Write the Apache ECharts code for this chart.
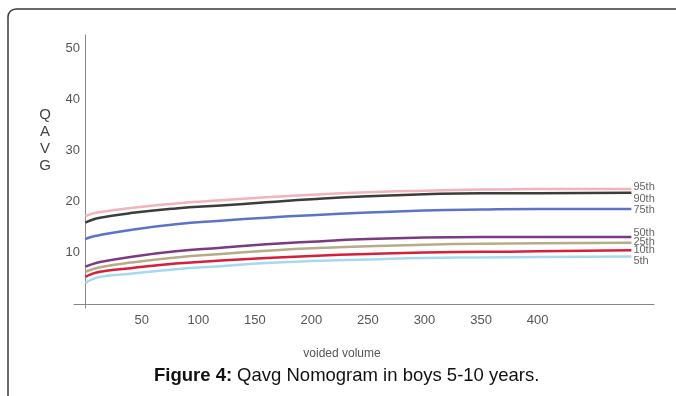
<!DOCTYPE html>
<html>
<head>
<meta charset="utf-8">
<script src="https://cdn.jsdelivr.net/npm/echarts@6/dist/echarts.min.js"></script>
<style>html,body{margin:0;padding:0;background:#fff;}#chart{width:676px;height:396px;}</style>
</head>
<body>
<div id="chart"></div>
<script>
// voided volume (ml)
const volumes = [0, 5, 13, 40, 80, 120, 160, 200, 250, 300, 350, 400, 483];
const p95 = [17.2, 17.6, 18.0, 18.8, 19.7, 20.3, 20.9, 21.4, 21.9, 22.2, 22.4, 22.5, 22.5];
const p90 = [15.9, 16.4, 16.9, 17.8, 18.7, 19.3, 19.9, 20.5, 21.1, 21.5, 21.7, 21.7, 21.8];
const p75 = [12.7, 13.1, 13.5, 14.5, 15.6, 16.3, 16.9, 17.4, 17.9, 18.3, 18.5, 18.6, 18.6];
const p50 = [7.3, 7.7, 8.2, 9.2, 10.3, 11.0, 11.7, 12.2, 12.7, 13.0, 13.1, 13.1, 13.1];
const p25 = [6.3, 6.7, 7.2, 8.1, 9.1, 9.8, 10.4, 10.9, 11.3, 11.6, 11.8, 11.9, 12.0];
const p10 = [5.3, 5.8, 6.3, 7.0, 7.9, 8.5, 9.0, 9.4, 9.8, 10.1, 10.2, 10.3, 10.5];
const p5  = [4.1, 4.7, 5.3, 5.9, 6.8, 7.4, 8.0, 8.4, 8.7, 9.0, 9.1, 9.2, 9.3];
const xTicks = [50, 100, 150, 200, 250, 300, 350, 400];
const yTicks = [10, 20, 30, 40, 50];
const seriesNames = ['95th', '90th', '75th', '50th', '25th', '10th', '5th'];
const seriesValues = [p95, p90, p75, p50, p25, p10, p5];
const yTitle = 'Q\nA\nV\nG';
const xTitle = 'voided volume';
const caption = ['Figure 4:', 'Qavg Nomogram in boys 5-10 years.'];

const colors = ['#f2b3bb', '#3c3c38', '#5b74c9', '#7b3b82', '#b5ac8a', '#d91e3c', '#a6d9ef'];
const labelDy = [-2, 6, 1, -4, -1, 0, 5];
const FONT = 'Liberation Sans, Arial, sans-serif';

const chart = echarts.init(document.getElementById('chart'), null, {renderer: 'canvas'});
const series = seriesNames.map((name, i) => ({
  name: name,
  type: 'line',
  smooth: true,
  showSymbol: false,
  data: volumes.map((v, k) => [v, seriesValues[i][k]]),
  lineStyle: {color: colors[i], width: 2.5},
  itemStyle: {color: colors[i]},
  z: 10 - i,
  endLabel: {
    show: true,
    formatter: name,
    color: '#666',
    fontSize: 11,
    fontFamily: FONT,
    distance: 2,
    offset: [0, labelDy[i]]
  }
})).reverse();

chart.setOption({
  animation: false,
  backgroundColor: '#fff',
  title: {
    left: 154,
    top: 366,
    padding: 0,
    text: '{b|' + caption[0] + '} {r|' + caption[1] + '}',
    textStyle: {
      rich: {
        b: {fontWeight: 'bold', fontSize: 18.5, color: '#111', fontFamily: FONT},
        r: {fontWeight: 'normal', fontSize: 18.5, color: '#111', fontFamily: FONT}
      }
    }
  },
  graphic: [{
    type: 'rect',
    shape: {x: 8, y: 9, width: 720, height: 440, r: 8},
    style: {fill: 'none', stroke: '#3a3a3a', lineWidth: 1.5},
    silent: true
  }, {
    type: 'text',
    x: 45,
    y: 140,
    style: {text: yTitle, fill: '#444', fontSize: 15, lineHeight: 17, align: 'center', verticalAlign: 'middle', fontFamily: FONT},
    silent: true
  }],
  grid: {left: 74, right: 22, top: 35, bottom: 88},
  xAxis: {
    type: 'value',
    min: -10,
    max: 503,
    name: xTitle,
    nameLocation: 'middle',
    nameGap: 40,
    nameTextStyle: {color: '#555', fontSize: 12, fontFamily: FONT, padding: [0, 44, 0, 0]},
    axisLine: {onZero: true, lineStyle: {color: '#888', width: 1}},
    axisTick: {show: false},
    splitLine: {show: false},
    axisLabel: {customValues: xTicks, color: '#555', fontSize: 13, margin: 6, fontFamily: FONT}
  },
  yAxis: {
    type: 'value',
    min: -0.8,
    max: 52.7,
    axisLine: {show: true, onZero: true, lineStyle: {color: '#888', width: 1}},
    axisTick: {show: false},
    splitLine: {show: false},
    axisLabel: {customValues: yTicks, color: '#555', fontSize: 13, margin: -6, fontFamily: FONT}
  },
  series: series
});
</script>
</body>
</html>
